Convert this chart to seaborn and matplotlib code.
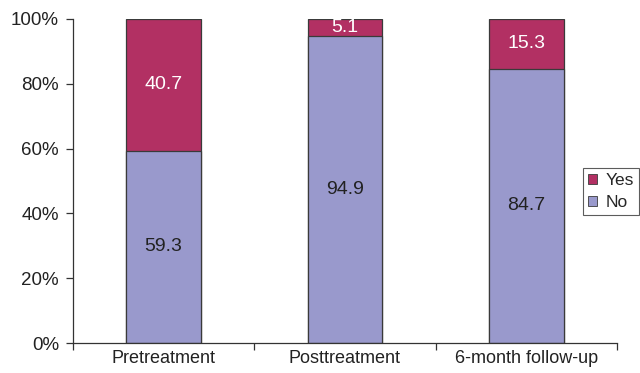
import matplotlib
matplotlib.use("Agg")
import matplotlib.pyplot as plt
import seaborn as sns
import pandas as pd
from matplotlib.patches import Patch

categories = ["Pretreatment", "Posttreatment", "6-month follow-up"]
no_values = [59.3, 94.9, 84.7]
yes_values = [40.7, 5.1, 15.3]

yes_color = "#B23063"
no_color = "#9999CC"
edge = "#3a3a3a"

sns.set_theme(style="white")
plt.rcParams["font.family"] = ["Liberation Sans", "DejaVu Sans"]

df = pd.DataFrame({"cat": categories, "no": no_values, "yes": yes_values})
df["total"] = df["no"] + df["yes"]

fig = plt.figure(figsize=(6.4, 3.73), dpi=100)
ax = fig.add_axes([73 / 640, 1 - 343 / 373, (617 - 73) / 640, (343 - 19) / 373])

# stacked bars: the full height in "Yes" colour, then "No" drawn over it
sns.barplot(data=df, x="cat", y="total", color=yes_color, saturation=1,
            width=0.41, edgecolor=edge, linewidth=0.9, ax=ax)
sns.barplot(data=df, x="cat", y="no", color=no_color, saturation=1,
            width=0.41, edgecolor=edge, linewidth=0.9, ax=ax)

for i, (n, y) in enumerate(zip(no_values, yes_values)):
    ax.text(i, n / 2, f"{n:.1f}", ha="center", va="center", fontsize=14, color="#222222")
    ax.text(i, n + y / 2, f"{y:.1f}", ha="center", va="center", fontsize=14, color="white")

ax.set_xlim(-0.5, 2.5)
ax.set_ylim(0, 100)
ax.set_yticks([0, 20, 40, 60, 80, 100])
ax.set_yticklabels([f"{v}%" for v in [0, 20, 40, 60, 80, 100]], fontsize=13.5, color="#222222")
ax.set_xticks([0, 1, 2])
ax.set_xticklabels(categories, fontsize=13, color="#222222")
ax.set_xticks([-0.5, 0.5, 1.5, 2.5], minor=True)
ax.tick_params(axis="x", which="major", length=0, pad=5)
ax.tick_params(axis="x", which="minor", length=5, width=0.9, color="#333333", direction="out", bottom=True)
ax.tick_params(axis="y", length=5, width=0.9, color="#333333", direction="out", left=True, pad=5)
ax.set_xlabel("")
ax.set_ylabel("")

sns.despine(ax=ax, top=True, right=True)
for s in ["left", "bottom"]:
    ax.spines[s].set_color("#333333")
    ax.spines[s].set_linewidth(0.9)

handles = [Patch(facecolor=yes_color, edgecolor=edge, linewidth=0.6, label="Yes"),
           Patch(facecolor=no_color, edgecolor=edge, linewidth=0.6, label="No")]
leg = fig.legend(handles=handles, loc="upper left", bbox_to_anchor=(583 / 640, 1 - 168 / 373),
                 fontsize=12.5, frameon=True, fancybox=False, edgecolor="#333333",
                 handlelength=0.5, handleheight=0.5, handletextpad=0.5,
                 borderpad=0.3, labelspacing=0.38, borderaxespad=0)
leg.get_frame().set_linewidth(0.8)

fig.savefig("out.png", dpi=100)
